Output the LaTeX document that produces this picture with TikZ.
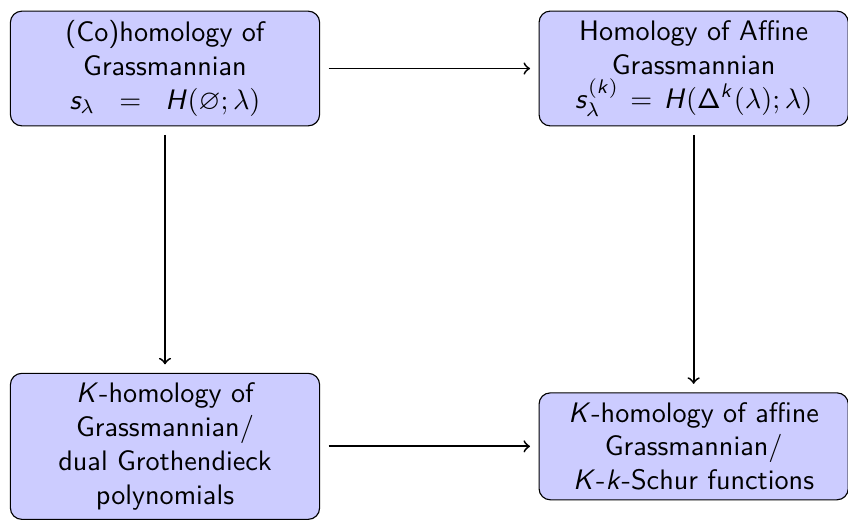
\documentclass[tikz,border=0pt]{standalone}
\usepackage{amsmath, amssymb, xcolor, tikz}
\usetikzlibrary{shapes,arrows,positioning}
\definecolor{boxblue}{RGB}{204,204,255}
\renewcommand{\familydefault}{\sfdefault}
% sans serif letters in math
\DeclareSymbolFont{sfslanted}{OT1}{cmss}{m}{sl}
\DeclareSymbolFont{sfupright}{OT1}{cmss}{m}{n}
\DeclareMathSymbol{s}{\mathalpha}{sfslanted}{`s}
\DeclareMathSymbol{k}{\mathalpha}{sfslanted}{`k}
\DeclareMathSymbol{H}{\mathalpha}{sfslanted}{`H}
\DeclareMathSymbol{K}{\mathalpha}{sfslanted}{`K}
\DeclareMathSymbol{\Delta}{\mathalpha}{sfupright}{"01}
\begin{document}
\begin{tikzpicture}[every node/.style={font=\sffamily},
  block/.style={draw, rectangle, rounded corners=4pt, fill=boxblue, text width=3.62cm, align=center},
  link/.style={->, line width=0.65pt, shorten <=3pt, shorten >=3pt}]
\useasboundingbox (-2.057,0.854) rectangle (8.514,-5.653);
\node[block] (cohom) {(Co)homology of\\ Grassmannian\\ $s_\lambda\ =\ H(\varnothing;\lambda)$};
\node[block] (affhom) [right of=cohom, xshift=5.59cm] {Homology of Affine\\ Grassmannian\\ $s_\lambda^{(k)} = H(\Delta^k(\lambda);\lambda)$};
\node[block] (khom) [below of=cohom, yshift=-3.71cm] {$K$-homology of\\ Grassmannian/\\ dual Grothendieck\\ polynomials};
\node[block] (kaff) [below of=affhom, yshift=-3.71cm] {$K$-homology of affine\\ Grassmannian/\\ $K$-$k$-Schur functions};
\draw[link] (cohom) -- (affhom);
\draw[link] (cohom) -- (khom);
\draw[link] (affhom) -- (kaff);
\draw[link] (khom) -- (kaff);
\end{tikzpicture}
\end{document}
